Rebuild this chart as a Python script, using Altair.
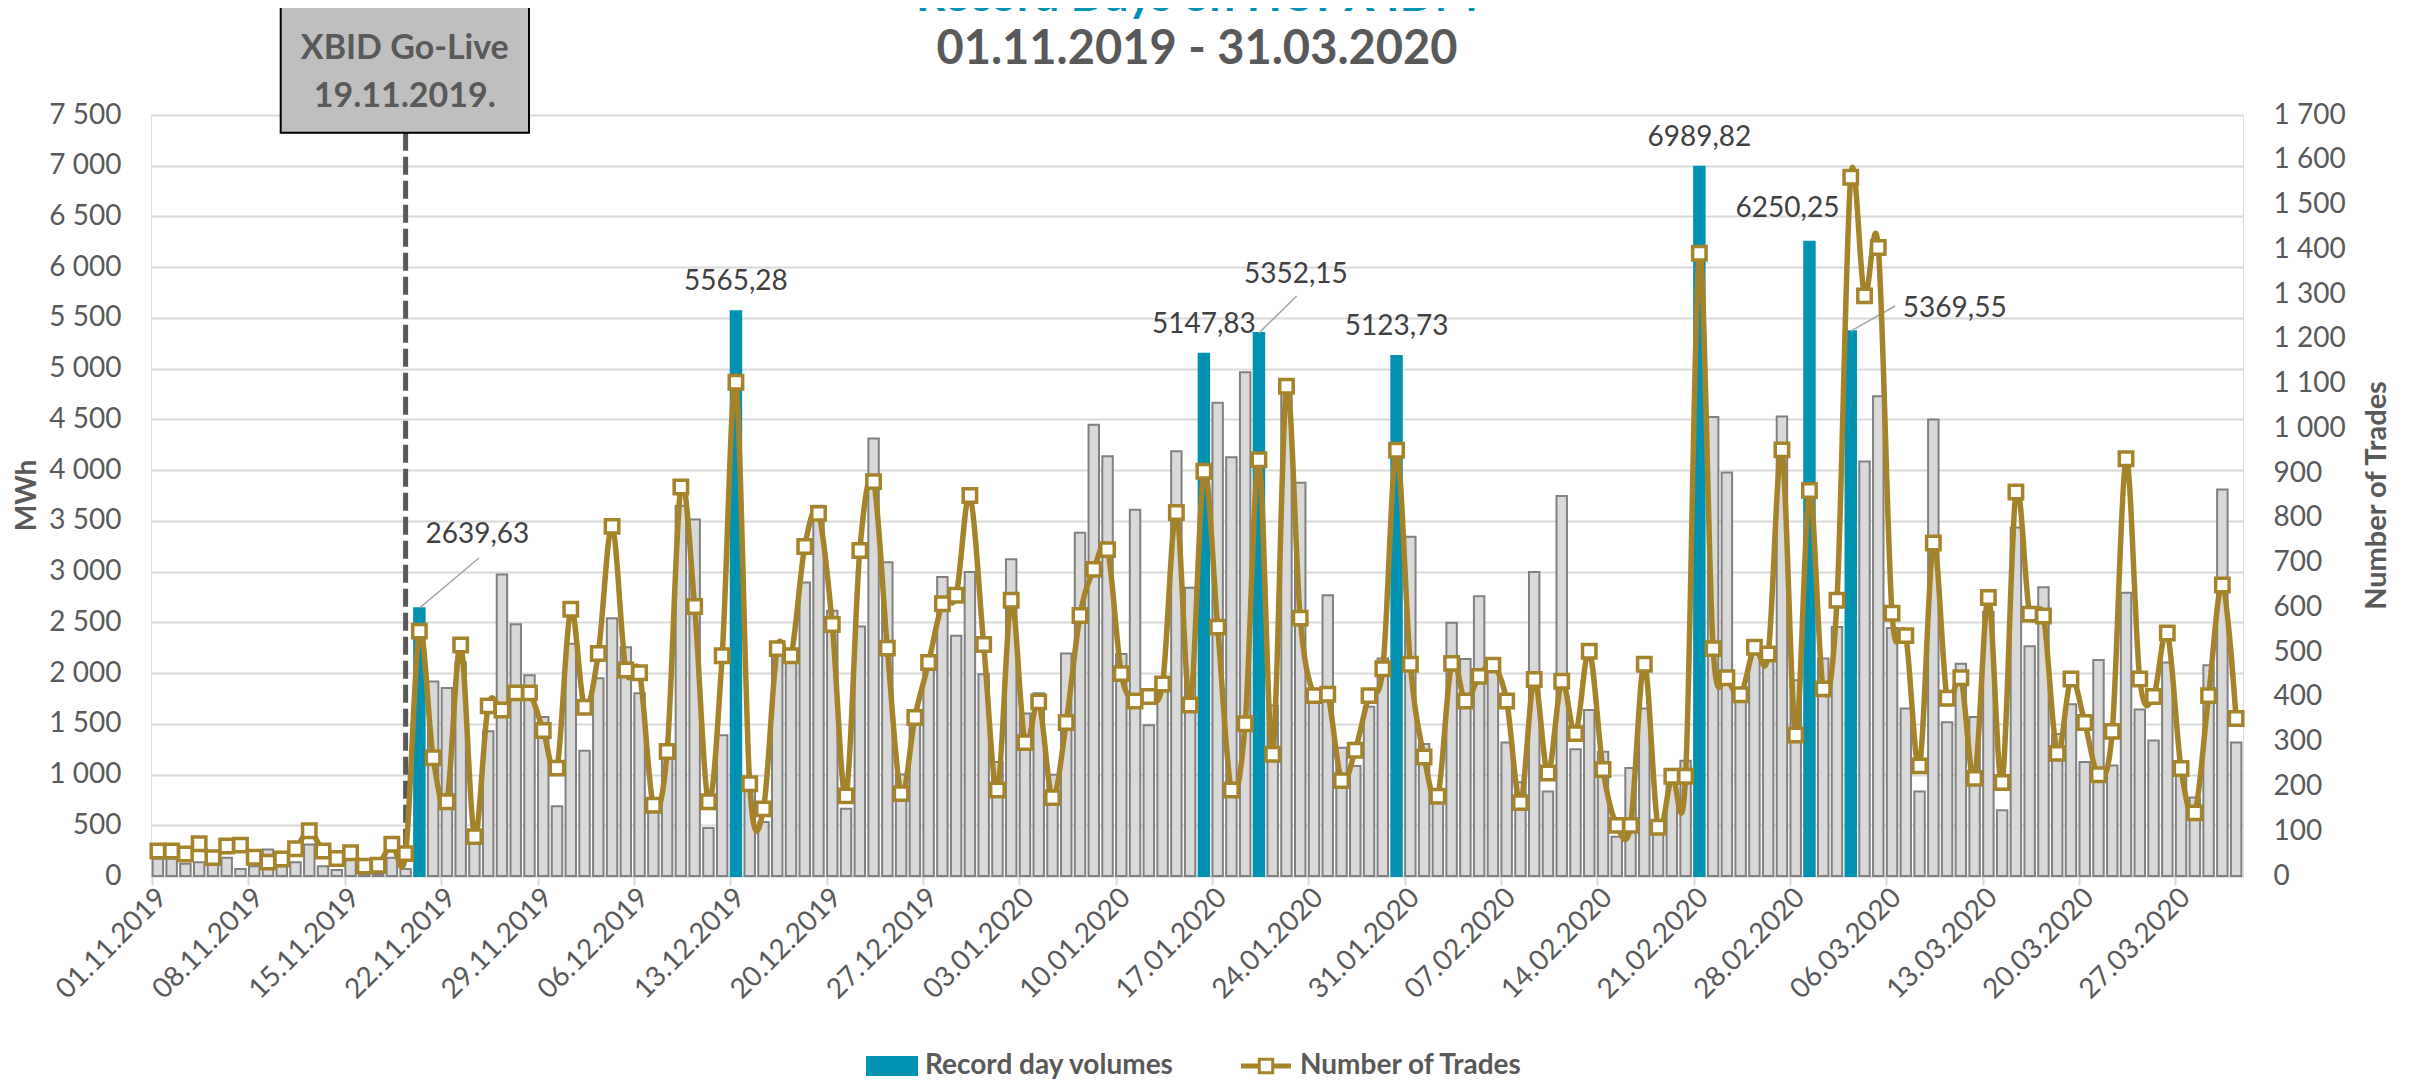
import altair as alt
import pandas as pd

# ---------------- data ----------------
dates = pd.date_range("2019-11-01", "2020-03-31", freq="D").strftime("%d.%m.%Y").tolist()

volumes = [
    170, 170, 120, 135, 120, 180, 70, 95, 260, 95, 135, 310, 95, 60, 160, 15, 20, 180, 70,
    2639.63, 1918, 1852, 2103, 350, 1426, 2972, 2480, 1978, 1566, 688,
    2289, 1235, 1948, 2540, 2254, 1802, 650, 1280, 3650, 3514, 472, 1386, 5565.28, 920, 532,
    2230, 2170, 2892, 3650, 2615, 663, 2460, 4312, 3092, 1000, 1637, 2179, 2947, 2369, 2997,
    1988, 1124, 3122, 1601, 1802, 999, 2194, 3383, 4448, 4136, 2189, 3609, 1486, 1900, 4187,
    2841, 5147.83, 4664, 4126, 4965, 5352.15, 1680, 4760, 3875, 1827, 2766, 1265, 1084, 1667,
    2144, 5123.73, 3343, 1300, 823, 2495, 2139, 2756, 2129, 1315, 924, 2997, 833, 3745, 1250,
    1637, 1225, 387, 1064, 1652, 470, 1024, 1135, 6989.82, 4523, 3976, 1802, 2229, 2179, 4528,
    1928, 6250.25, 2144, 2455, 5369.55, 4086, 4729, 2445, 1652, 833, 4498, 1516, 2093, 1566,
    2605, 648, 3434, 2264, 2846, 1400, 1692, 1124, 2128, 1089, 2791, 1642, 1335, 2103, 1124,
    773, 2078, 3810, 1315,
]

trades = [
    56, 56, 49, 72, 41, 67, 69, 42, 31, 38, 61, 101, 56, 39, 52, 22, 24, 71, 50,
    547, 264, 166, 516, 88, 380, 371, 409, 409, 325, 241,
    596, 377, 497, 781, 460, 454, 158, 278, 869, 602, 166, 492, 1103, 206, 150,
    508, 492, 736, 810, 562, 179, 727, 881, 509, 184, 354, 477, 608, 627, 850,
    517, 192, 616, 298, 389, 175, 343, 582, 685, 729, 452, 391, 401, 429, 812,
    382, 904, 556, 192, 340, 930, 272, 1094, 576, 403, 406, 213, 281, 403,
    463, 951, 473, 266, 178, 475, 391, 446, 471, 391, 164, 439, 230, 435, 318,
    502, 238, 113, 113, 473, 109, 223, 223, 1391, 508, 443, 405, 511, 496, 952,
    315, 861, 418, 616, 1561, 1296, 1404, 587, 537, 246, 744, 397, 443, 218,
    622, 209, 858, 585, 581, 274, 440, 343, 226, 323, 932, 440, 401, 543, 240,
    141, 403, 650, 352,
]

record_dates = ["20.11.2019", "13.12.2019", "16.01.2020", "20.01.2020",
                "30.01.2020", "21.02.2020", "29.02.2020", "03.03.2020"]
record_labels = ["2639,63", "5565,28", "5147,83", "5352,15",
                 "5123,73", "6989,82", "6250,25", "5369,55"]

label_dates = dates[::7]
golive_date = "19.11.2019"

title_top = "Record Days on HUPX IDM"
title_sub = "01.11.2019 - 31.03.2020"
box_lines = ["XBID Go-Live", "19.11.2019."]
legend_items = ["Record day volumes", "Number of Trades"]

lab_map = dict(zip(record_dates, record_labels))
df = pd.DataFrame({
    "date": dates,
    "vol": volumes,
    "trades": trades,
    "record": [d in lab_map for d in dates],
    "label": [lab_map.get(d, "") for d in dates],
})

# ---------------- style ----------------
TEAL = "#0092B0"
GOLD = "#A5832A"
GFILL = "#D9D9D9"
GSTROKE = "#808080"
TXT = "#595959"
GRID = "#D9D9D9"
FONT = "Lato"

W, H = 2092, 761

xaxis = alt.Axis(
    values=label_dates, labelAngle=315, labelAlign="right", labelBaseline="middle",
    labelFont=FONT, labelFontSize=28, labelColor=TXT, labelPadding=8,
    labelOverlap=False, labelBound=False,
    tickColor=GRID, tickSize=9, tickWidth=2, domainColor=GRID, domainWidth=2,
    bandPosition=0, labelOffset=5, grid=False, title=None,
)
X = alt.X("date:O", sort=None,
          scale=alt.Scale(domain=dates, paddingInner=0.24, paddingOuter=0.12),
          axis=xaxis)

ysc = alt.Scale(domain=[0, 7500], nice=False, zero=True)
y2sc = alt.Scale(domain=[0, 1700], nice=False, zero=True)

yaxis_left = alt.Axis(
    orient="left", values=list(range(0, 7501, 500)),
    labelExpr="replace(format(datum.value, ','), ',', ' ')",
    labelFont=FONT, labelFontSize=28, labelColor=TXT, labelPadding=30,
    ticks=False, domain=False, grid=True, gridColor=GRID, gridWidth=2,
    title="MWh", titleFont=FONT, titleFontSize=28, titleFontWeight="bold", titleColor=TXT,
    titleAngle=270, titleX=-124, titleY=380, titleAlign="center", titleBaseline="middle",
)
yaxis_right = alt.Axis(
    orient="right", values=list(range(0, 1701, 100)),
    labelExpr="replace(format(datum.value, ','), ',', ' ')",
    labelFont=FONT, labelFontSize=28, labelColor=TXT, labelPadding=30,
    ticks=False, domain=False, grid=False,
    title="Number of Trades", titleFont=FONT, titleFontSize=29, titleFontWeight="bold",
    titleColor=TXT, titleAngle=270, titleX=133, titleY=380, titleAlign="center",
    titleBaseline="middle",
)

base = alt.Chart(df)

bars = base.mark_bar(strokeWidth=2).encode(
    x=X,
    y=alt.Y("vol:Q", scale=ysc, axis=yaxis_left),
    fill=alt.condition("datum.record", alt.value(TEAL), alt.value(GFILL)),
    stroke=alt.condition("datum.record", alt.value(TEAL), alt.value(GSTROKE)),
)

golive = base.transform_filter(alt.datum.date == golive_date).mark_rule(
    color=TXT, strokeWidth=5, strokeDash=[18, 6]
).encode(x=X, y=alt.value(17.7), y2=alt.value(738))

one = pd.DataFrame({"k": [0]})
box = alt.Chart(one).mark_rect(fill="#BFBFBF", stroke="#000000", strokeWidth=2).encode(
    x=alt.value(129.7), x2=alt.value(378), y=alt.value(-109), y2=alt.value(17.7)
)
box_t1 = alt.Chart(pd.DataFrame({"t": [box_lines[0]]})).mark_text(
    font=FONT, fontSize=34, fontWeight="bold", color=TXT, align="center", baseline="middle"
).encode(text="t:N", x=alt.value(253.8), y=alt.value(-66))
box_t2 = alt.Chart(pd.DataFrame({"t": [box_lines[1]]})).mark_text(
    font=FONT, fontSize=34, fontWeight="bold", color=TXT, align="center", baseline="middle"
).encode(text="t:N", x=alt.value(253.8), y=alt.value(-18))

t_top = alt.Chart(pd.DataFrame({"t": [title_top]})).mark_text(
    font=FONT, fontSize=46, fontWeight="bold", color=TEAL, align="center", baseline="alphabetic"
).encode(text="t:N", x=alt.value(1046), y=alt.value(-104))
t_sub = alt.Chart(pd.DataFrame({"t": [title_sub]})).mark_text(
    font=FONT, fontSize=47, fontWeight="bold", color=TXT, align="center", baseline="middle"
).encode(text="t:N", x=alt.value(1046), y=alt.value(-65))


def rec_label(names, dx, dy):
    return base.transform_filter(
        alt.FieldOneOfPredicate(field="date", oneOf=names)
    ).mark_text(font=FONT, fontSize=28, color="#404040", align="center",
                baseline="middle", dx=dx, dy=dy).encode(
        x=X, y=alt.Y("vol:Q", scale=ysc, axis=None), text="label:N")


def leader(name, ex, ey):
    return base.transform_filter(alt.datum.date == name).mark_rule(
        color="#A6A6A6", strokeWidth=1.5
    ).encode(x=X, y=alt.Y("vol:Q", scale=ysc, axis=None),
             x2=alt.value(ex), y2=alt.value(ey))


labels = [
    rec_label(["13.12.2019", "16.01.2020", "30.01.2020", "21.02.2020"], 0, -29),
    rec_label(["20.11.2019"], 58, -73),
    rec_label(["20.01.2020"], 37, -58),
    rec_label(["29.02.2020"], -22, -33),
    rec_label(["03.03.2020"], 104, -22),
]
leaders = [
    leader("20.11.2019", 328, 443),
    leader("20.01.2020", 1145.7, 181),
    leader("03.03.2020", 1744, 191),
]

LEG_Y = 951
leg_rect = alt.Chart(one).mark_rect(fill=TEAL).encode(
    x=alt.value(715), x2=alt.value(767), y=alt.value(LEG_Y - 10), y2=alt.value(LEG_Y + 10))
leg_t1 = alt.Chart(pd.DataFrame({"t": [legend_items[0]]})).mark_text(
    font=FONT, fontSize=28, fontWeight="bold", color=TXT, align="left", baseline="middle"
).encode(text="t:N", x=alt.value(774), y=alt.value(LEG_Y))
leg_line = alt.Chart(one).mark_rule(color=GOLD, strokeWidth=5).encode(
    x=alt.value(1090), x2=alt.value(1140), y=alt.value(LEG_Y))
leg_pt = alt.Chart(one).mark_point(
    shape="square", filled=True, fill="white", stroke=GOLD, strokeWidth=3, size=180, opacity=1
).encode(x=alt.value(1115), y=alt.value(LEG_Y))
leg_t2 = alt.Chart(pd.DataFrame({"t": [legend_items[1]]})).mark_text(
    font=FONT, fontSize=28, fontWeight="bold", color=TXT, align="left", baseline="middle"
).encode(text="t:N", x=alt.value(1149), y=alt.value(LEG_Y))

line = base.mark_line(color=GOLD, strokeWidth=5.5, interpolate="cardinal").encode(
    x=X, y=alt.Y("trades:Q", scale=y2sc, axis=yaxis_right))
points = base.mark_point(
    shape="square", filled=True, fill="white", stroke=GOLD, strokeWidth=3.5, size=180, opacity=1
).encode(x=X, y=alt.Y("trades:Q", scale=y2sc, axis=None))

chart = alt.layer(
    bars, golive, box, box_t1, box_t2, t_top, t_sub,
    *leaders, *labels, leg_rect, leg_t1, leg_line, leg_pt, leg_t2,
    line, points,
).resolve_scale(y="independent").properties(
    width=W, height=H,
    padding={"left": 143, "top": 107, "right": 164, "bottom": 204},
    autosize=alt.AutoSizeParams(type="none"),
).configure_view(stroke="transparent").configure(font=FONT, background="white")

chart.save("out.html", embed_options={"renderer": "svg", "actions": False})
